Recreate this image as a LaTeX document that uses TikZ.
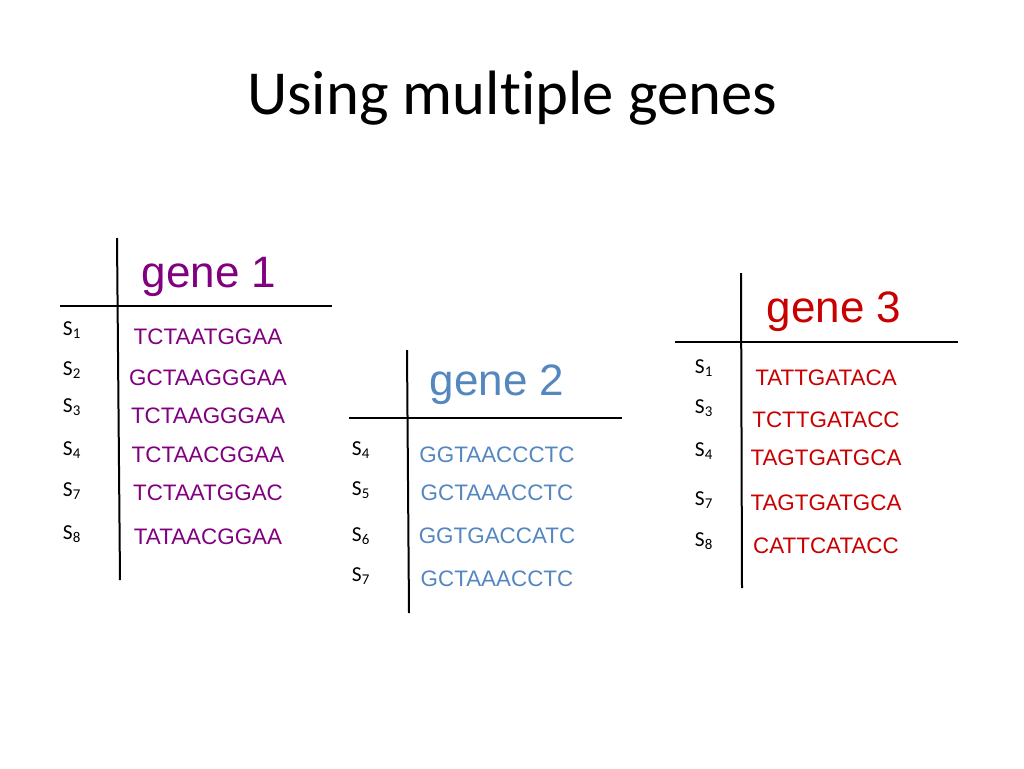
\documentclass[tikz,border=0pt]{standalone}
\usepackage{fontspec}
\setmainfont{Carlito}
\newfontfamily\arial{Liberation Sans}
\definecolor{gpur}{RGB}{128,0,128}
\definecolor{gblu}{RGB}{84,134,192}
\definecolor{gred}{RGB}{200,0,0}
\begin{document}
\begin{tikzpicture}[x=0.75pt,y=-0.75pt,
  rule/.style={line width=1.5pt,black},
  seq/.style={font=\arial\fontsize{16.8}{19}\selectfont,inner sep=0},
  gname/.style={font=\arial\fontsize{33}{37}\selectfont,inner sep=0},
  sl/.style={font=\fontsize{16}{18}\selectfont,inner sep=0}]
\useasboundingbox (0,0) rectangle (1024,768);
\node[font=\fontsize{47}{52}\selectfont] (title) at (512,98) {Using mult\kern0pt iple genes};
% gene 1
\coordinate (a1) at (117,238); \coordinate (a2) at (120,580);
\coordinate (a3) at (60,306); \coordinate (a4) at (332,306);
\draw[rule] (a1)--(a2); \draw[rule] (a3)--(a4);
\node[gname,text=gpur] (g1) at (209,277) {gene 1};
\foreach \n/\y in {1/330,2/370,3/407,4/450,7/491,8/534}
  \node[sl] (s1\n) at (72,\y) {S\textsubscript{\n}};
\foreach \s/\y [count=\i] in {TCTAATGGAA/337,GCTAAGGGAA/378,TCTAAGGGAA/416,TCTAACGGAA/455,TCTAATGGAC/493,TATAACGGAA/537}
  \node[seq,text=gpur] (q1\i) at (208,\y) {\s};
% gene 2
\coordinate (b1) at (407,350); \coordinate (b2) at (409,613);
\coordinate (b3) at (349,418); \coordinate (b4) at (622,418);
\draw[rule] (b1)--(b2); \draw[rule] (b3)--(b4);
\node[gname,text=gblu] (g2) at (497,385) {gene 2};
\foreach \n/\y in {4/450,5/490,6/536,7/576}
  \node[sl] (s2\n) at (361,\y) {S\textsubscript{\n}};
\foreach \s/\y [count=\i] in {GGTAACCCTC/455,GCTAAACCTC/493,GGTGACCATC/536,GCTAAACCTC/579}
  \node[seq,text=gblu] (q2\i) at (497,\y) {\s};
% gene 3
\coordinate (c1) at (741,273); \coordinate (c2) at (742,588);
\coordinate (c3) at (675,342); \coordinate (c4) at (958,342);
\draw[rule] (c1)--(c2); \draw[rule] (c3)--(c4);
\node[gname,text=gred] (g3) at (834,312) {gene 3};
\foreach \n/\y in {1/368,3/408,4/451,7/500,8/541}
  \node[sl] (s3\n) at (704,\y) {S\textsubscript{\n}};
\foreach \s/\y [count=\i] in {TATTGATACA/378,TCTTGATACC/420,TAGTGATGCA/458,TAGTGATGCA/503,CATTCATACC/546}
  \node[seq,text=gred] (q3\i) at (826,\y) {\s};
\end{tikzpicture}
\end{document}
